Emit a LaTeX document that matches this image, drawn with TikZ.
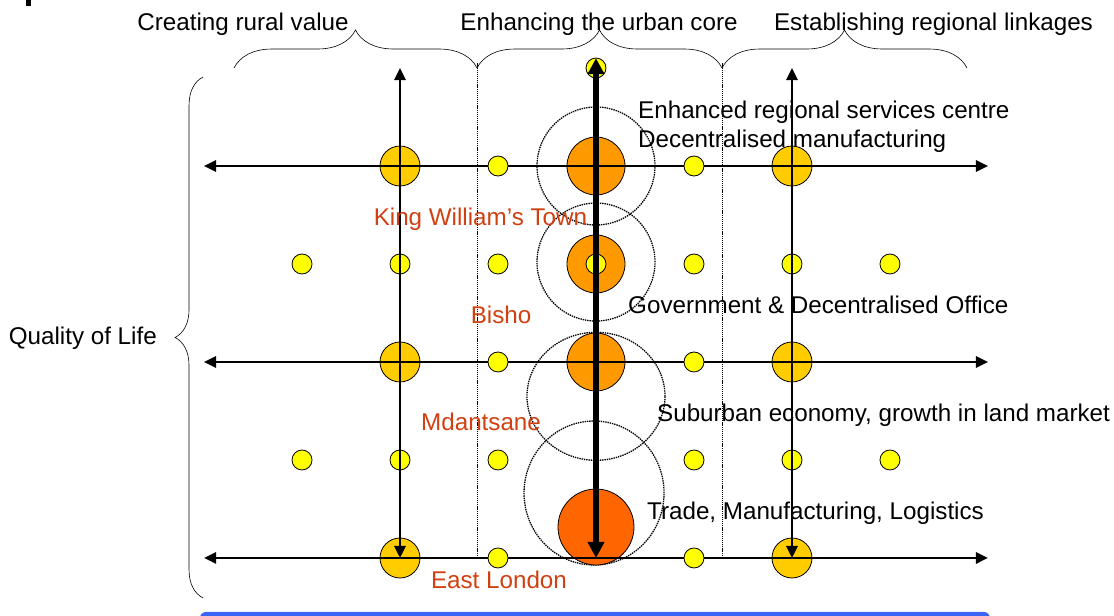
\documentclass[tikz,border=0pt]{standalone}
\usepackage{fontspec}
\setmainfont{Liberation Sans}
\usetikzlibrary{arrows.meta,decorations.pathreplacing}

\definecolor{dotyellow}{RGB}{255,255,0}
\definecolor{towngold}{RGB}{255,204,0}
\definecolor{huborange}{RGB}{255,153,0}
\definecolor{portred}{RGB}{255,102,0}
\definecolor{placered}{RGB}{208,64,16}
\definecolor{barblue}{RGB}{60,100,245}

\tikzset{
  village/.style={circle, draw, line width=0.8pt, fill=dotyellow, minimum size=20pt, inner sep=0pt},
  town/.style={village, fill=towngold, minimum size=40pt},
  hub/.style={village, fill=huborange, minimum size=58pt},
  port/.style={village, fill=portred, minimum size=76pt},
  zone/.style={draw, dash pattern=on 1.4pt off 0.9pt, line width=1.3pt},
  divider/.style={dash pattern=on 1.2pt off 0.9pt, line width=0.9pt},
  axis/.style={{Triangle[length=12pt,width=11pt]}-{Triangle[length=12pt,width=11pt]}, line width=2.6pt},
  spine/.style={{Triangle[length=16pt,width=16pt]}-{Triangle[length=16pt,width=16pt]}, line width=5.5pt},
  note/.style={anchor=base west, inner sep=0pt},
  place/.style={anchor=base, inner sep=0pt, text=placered},
  bracket/.style={decorate, decoration={brace, amplitude=#1}, line width=0.6pt},
}

\begin{document}
\begin{tikzpicture}[x=98pt, y=98pt, font=\fontsize{24.2}{29}\selectfont]
\clip (-6.082,-0.592) rectangle (5.286,5.694);
\fill (-5.816,5.633) rectangle (-5.765,5.75);

% section dividers
\draw[divider] (-1.214,0) -- (-1.214,5.05);
\draw[divider] (1.286,0) -- (1.286,5.05);

% catchment rings round the core
\draw[zone] (0,4) circle (59pt);
\draw[zone] (0,3.02) circle (59pt);
\draw[zone] (0,1.65) ellipse (69pt and 64pt);
\draw[zone] (-0.02,0.663) ellipse (70pt and 72pt);

% settlements
\foreach \y in {1,3}
  \foreach \x in {-3,-2,-1,1,2,3}
    \node[village] (v\x\y) at (\x,\y) {};
\foreach \y in {0,2,4} {
  \node[town] (wt\y) at (-2,\y) {};
  \node[town] (et\y) at (2,\y) {};
}
\node[hub] (kwt) at (0,4) {};
\node[hub] (bisho) at (0,3) {};
\node[village] (bishoc) at (0,3) {};
\node[hub] (mdantsane) at (0,2) {};
\node[port] (eastlondon) at (0,0.316) {};
\node[village] (top) at (0,5) {};

% corridors
\foreach \y in {0,2,4} {
  \coordinate (l\y) at (-4,\y);
  \coordinate (r\y) at (4,\y);
  \draw[axis] (l\y) -- (r\y);
}
\coordinate (ws) at (-2,0);
\coordinate (wn) at (-2,5);
\coordinate (es) at (2,0);
\coordinate (en) at (2,5);
\coordinate (cs) at (0,0);
\coordinate (cn) at (0,5.1);
\draw[axis] (ws) -- (wn);
\draw[axis] (es) -- (en);
\draw[spine] (cs) -- (cn);

\foreach \y in {0,2,4} {
  \node[village] (lv\y) at (-1,\y) {};
  \node[village] (rv\y) at (1,\y) {};
}

% braces and headings
\draw[bracket=38pt] (-3.694,5) -- (-1.214,5);
\draw[bracket=38pt] (-1.214,5) -- (1.286,5);
\draw[bracket=38pt] (1.286,5) -- (3.786,5);
\draw[bracket=28pt] (-4.010,-0.408) -- (-4.010,4.908);
\node[anchor=base] (rural) at (-3.602,5.378) {Creating rural value};
\node[anchor=base] (core) at (0.031,5.378) {Enhancing the urban core};
\node[anchor=base] (links) at (3.444,5.378) {Establishing regional linkages};
\node[anchor=base east, inner sep=0pt] (qol) at (-4.48,2.179) {Quality of Life};

% roles of the centres
\node[note] (services) at (0.429,4.485) {Enhanced regional services centre};
\node[note] (manufacturing) at (0.429,4.189) {Decentralised manufacturing};
\node[note] (offices) at (0.327,2.495) {Government \& Decentralised Office};
\node[note] (suburban) at (0.622,1.393) {Suburban economy, growth in land market};
\node[note] (trade) at (0.520,0.393) {Trade, Manufacturing, Logistics};

% place names
\node[place] (kwtname) at (-1.179,3.393) {King William’s Town};
\node[place] (bishoname) at (-0.969,2.393) {Bisho};
\node[place] (mdantsanename) at (-1.173,1.301) {Mdantsane};
\node[place] (elname) at (-0.990,-0.311) {East London};

\fill[barblue, rounded corners=6pt] (-4.041,-0.551) rectangle (4.02,-1.0);
\end{tikzpicture}
\end{document}
